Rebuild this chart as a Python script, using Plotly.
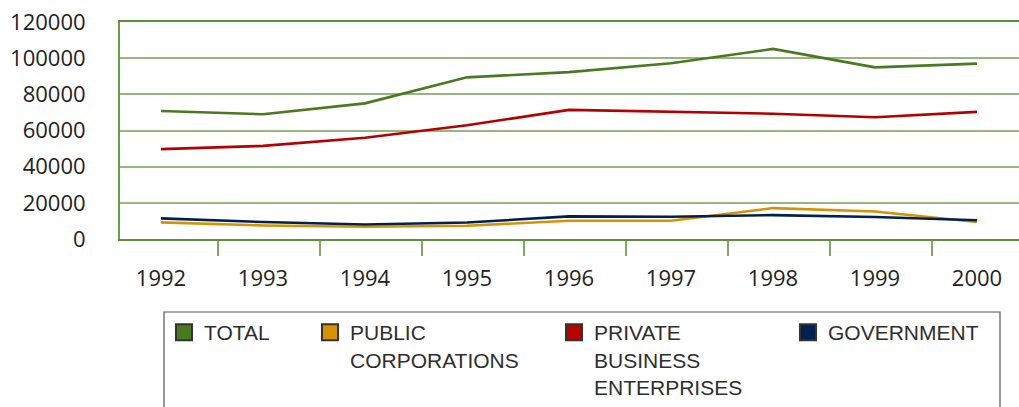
import plotly.graph_objects as go

years = [1992, 1993, 1994, 1995, 1996, 1997, 1998, 1999, 2000]
total = [70800, 69000, 75000, 89400, 92300, 97200, 105100, 94900, 97000]
public_corp = [9200, 7500, 6800, 7300, 10100, 10100, 17100, 15200, 9400]
private_bus = [49700, 51500, 56000, 62900, 71400, 70300, 69300, 67300, 70300]
government = [11400, 9400, 8000, 9100, 12500, 12300, 13200, 12200, 10400]
y_ticks = [0, 20000, 40000, 60000, 80000, 100000, 120000]

series = [
    ("TOTAL", total, "#4a7a1f"),
    ("PUBLIC<br>CORPORATIONS", public_corp, "#d69200"),
    ("PRIVATE<br>BUSINESS<br>ENTERPRISES", private_bus, "#b50000"),
    ("GOVERNMENT", government, "#00204f"),
]

W, H = 1027, 407                 # a little wider than the window: plot runs off the right edge
L, T, B = 120, 22, 239           # page pixels
PW, PH = W - L, B - T
PX_PER_YEAR = 102.0
X0 = 1991.598
X1 = X0 + PW / PX_PER_YEAR

def px_x(p):
    return (p - L) / PW

def px_y(p):
    return (B - p) / PH

fig = go.Figure()
legend_names = ["legend", "legend2", "legend3", "legend4"]
for (name, vals, color), lg in zip(series, legend_names):
    fig.add_trace(go.Scatter(x=years, y=vals, mode="lines", name=name,
                             line=dict(color=color, width=2.6),
                             showlegend=False, legendgroup=name))
    fig.add_trace(go.Scatter(x=[None], y=[None], mode="markers", name=name,
                             marker=dict(symbol="square", size=16, color=color,
                                         line=dict(color="#333333", width=2)),
                             showlegend=True, legendgroup=name, legend=lg))

sym_centers = [183, 329, 573, 807]
leg_common = dict(y=px_y(312), yanchor="top", xanchor="left", orientation="v",
                  bgcolor="rgba(0,0,0,0)", borderwidth=0, valign="top",
                  font=dict(family="Liberation Sans", size=21, color="#2e2e2e"))
layout_legends = {}
for lg, c in zip(legend_names, sym_centers):
    layout_legends[lg] = dict(x=px_x(c - 19), **leg_common)

fig.update_layout(
    width=W, height=H,
    margin=dict(l=L, r=0, t=T, b=H - B, autoexpand=False),
    paper_bgcolor="white", plot_bgcolor="white",
    showlegend=True,
    **layout_legends,
    xaxis=dict(range=[X0, X1], tickvals=years,
               ticktext=[str(y) for y in years], ticks="",
               showgrid=False, showline=True, linecolor="#5f8f3a", linewidth=2,
               mirror=True,
               zeroline=False, ticklabelstandoff=19,
               tickfont=dict(family="Open Sans", size=22, color="#222222"),
               minor=dict(tickvals=[y + 0.56 for y in years[:-1]], ticks="outside",
                          ticklen=15, tickcolor="#7fa862", tickwidth=2, showgrid=False)),
    yaxis=dict(range=[0, 120000], tickvals=y_ticks,
               ticktext=[str(v) for v in y_ticks], ticks="",
               showgrid=True, gridcolor="#97b57f", gridwidth=2,
               showline=True, linecolor="#6b9a48", linewidth=2, zeroline=False,
               ticklabelstandoff=28, ticklabeloverflow="allow",
               tickfont=dict(family="Open Sans", size=22, color="#222222")),
    shapes=[dict(type="rect", xref="paper", yref="paper",
                 x0=px_x(164), x1=px_x(1000), y0=px_y(312), y1=px_y(470),
                 line=dict(color="#555555", width=1.2), fillcolor="rgba(0,0,0,0)",
                 layer="above")],
)

fig.write_html("out.html", config={"displayModeBar": False},
               post_script="document.body.style.margin='0';document.body.style.overflow='hidden';")
